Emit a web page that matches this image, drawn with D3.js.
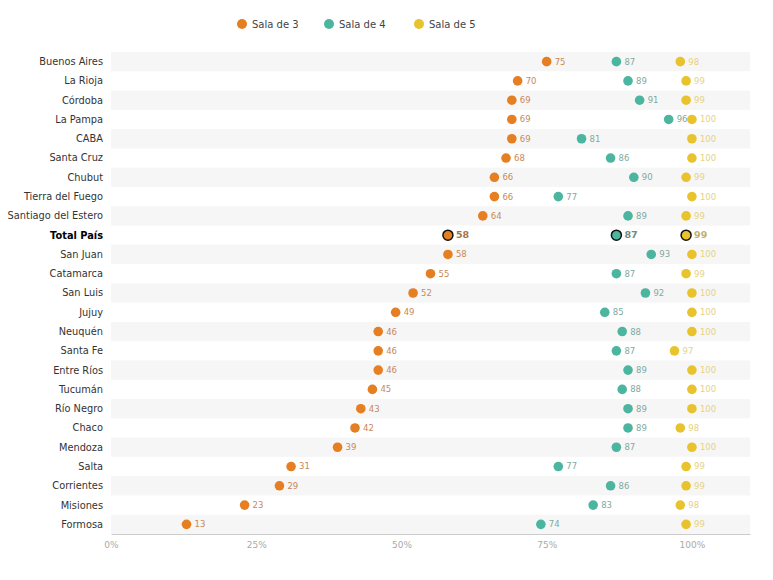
<!DOCTYPE html>
<html>
<head>
<meta charset="utf-8">
<script src="https://cdn.jsdelivr.net/npm/d3@7"></script>
<style>
  body { margin: 0; background: #fff; }
  svg { font-family: "DejaVu Sans", sans-serif; }
</style>
</head>
<body>
<svg id="chart"></svg>
<script>
// provinces, top to bottom
const provincias = ["Buenos Aires", "La Rioja", "Córdoba", "La Pampa", "CABA", "Santa Cruz", "Chubut",
  "Tierra del Fuego", "Santiago del Estero", "Total País", "San Juan", "Catamarca", "San Luis", "Jujuy",
  "Neuquén", "Santa Fe", "Entre Ríos", "Tucumán", "Río Negro", "Chaco", "Mendoza", "Salta",
  "Corrientes", "Misiones", "Formosa"];
const sala3 = [75, 70, 69, 69, 69, 68, 66, 66, 64, 58, 58, 55, 52, 49, 46, 46, 46, 45, 43, 42, 39, 31, 29, 23, 13];
const sala4 = [87, 89, 91, 96, 81, 86, 90, 77, 89, 87, 93, 87, 92, 85, 88, 87, 89, 88, 89, 89, 87, 77, 86, 83, 74];
const sala5 = [98, 99, 99, 100, 100, 100, 99, 100, 99, 99, 100, 99, 100, 100, 100, 97, 100, 100, 100, 98, 100, 99, 99, 98, 99];
const series = ["Sala de 3", "Sala de 4", "Sala de 5"];
const xTicks = [0, 0.25, 0.5, 0.75, 1];

const colors = ["#e67e22", "#4bb59f", "#e8c32e"];
const labelColors = ["#c9885a", "#7fa9a0", "#e6d282"];

const width = 773, height = 580;
const margin = {top: 52, right: 23, bottom: 46, left: 111};

const svg = d3.select("#chart").attr("width", width).attr("height", height);

const x = d3.scaleLinear().domain([0, 1.1]).range([margin.left, width - margin.right]);
const y = d3.scaleBand().domain(provincias).range([margin.top, height - margin.bottom]);

// alternating row bands
svg.append("g")
  .selectAll("rect")
  .data(provincias.filter((d, i) => i % 2 === 0))
  .join("rect")
  .attr("x", margin.left)
  .attr("y", d => y(d))
  .attr("width", width - margin.right - margin.left)
  .attr("height", y.bandwidth())
  .attr("fill", "#f6f6f6");

// y labels
svg.append("g")
  .selectAll("text")
  .data(provincias)
  .join("text")
  .attr("x", margin.left - 8)
  .attr("y", d => y(d) + y.bandwidth() / 2)
  .attr("dy", "0.35em")
  .attr("text-anchor", "end")
  .attr("font-size", 9.8)
  .attr("font-weight", d => d === "Total País" ? "bold" : "normal")
  .attr("fill", d => d === "Total País" ? "#000" : "#333")
  .text(d => d);

// x axis
const xAxis = svg.append("g")
  .attr("transform", `translate(0,${height - margin.bottom})`)
  .call(d3.axisBottom(x).tickValues(xTicks).tickFormat(d3.format(".0%")).tickSize(0).tickPadding(8));
xAxis.select(".domain").attr("stroke", "#ccc");
xAxis.selectAll("text").attr("fill", "#aaa").attr("font-size", 9).attr("font-family", "DejaVu Sans, sans-serif");

// dots
const values = [sala3, sala4, sala5];
values.forEach((vals, s) => {
  const g = svg.append("g");
  const pts = provincias.map((p, i) => ({p, v: vals[i]}));
  g.selectAll("circle")
    .data(pts)
    .join("circle")
    .attr("cx", d => x(d.v / 100))
    .attr("cy", d => y(d.p) + y.bandwidth() / 2)
    .attr("r", d => d.p === "Total País" ? 5 : 4.8)
    .attr("fill", colors[s])
    .attr("stroke", d => d.p === "Total País" ? "#111" : "none")
    .attr("stroke-width", 1.5);
  g.selectAll("text")
    .data(pts)
    .join("text")
    .attr("x", d => x(d.v / 100) + 8)
    .attr("y", d => y(d.p) + y.bandwidth() / 2)
    .attr("dy", "0.35em")
    .attr("font-size", d => d.p === "Total País" ? 9.5 : 8.5)
    .attr("font-weight", d => d.p === "Total País" ? "bold" : "normal")
    .attr("fill", d => d.p === "Total País" ? d3.color(labelColors[s]).darker(0.5) : labelColors[s])
    .text(d => d.v);
});

// legend
const legendX = [242, 329, 419];
const legend = svg.append("g")
  .selectAll("g")
  .data(series)
  .join("g")
  .attr("transform", (d, i) => `translate(${legendX[i]},24)`);
legend.append("circle").attr("r", 5).attr("fill", (d, i) => colors[i]);
legend.append("text")
  .attr("x", 10)
  .attr("dy", "0.35em")
  .attr("font-size", 10)
  .attr("fill", "#444")
  .text(d => d);
</script>
</body>
</html>
